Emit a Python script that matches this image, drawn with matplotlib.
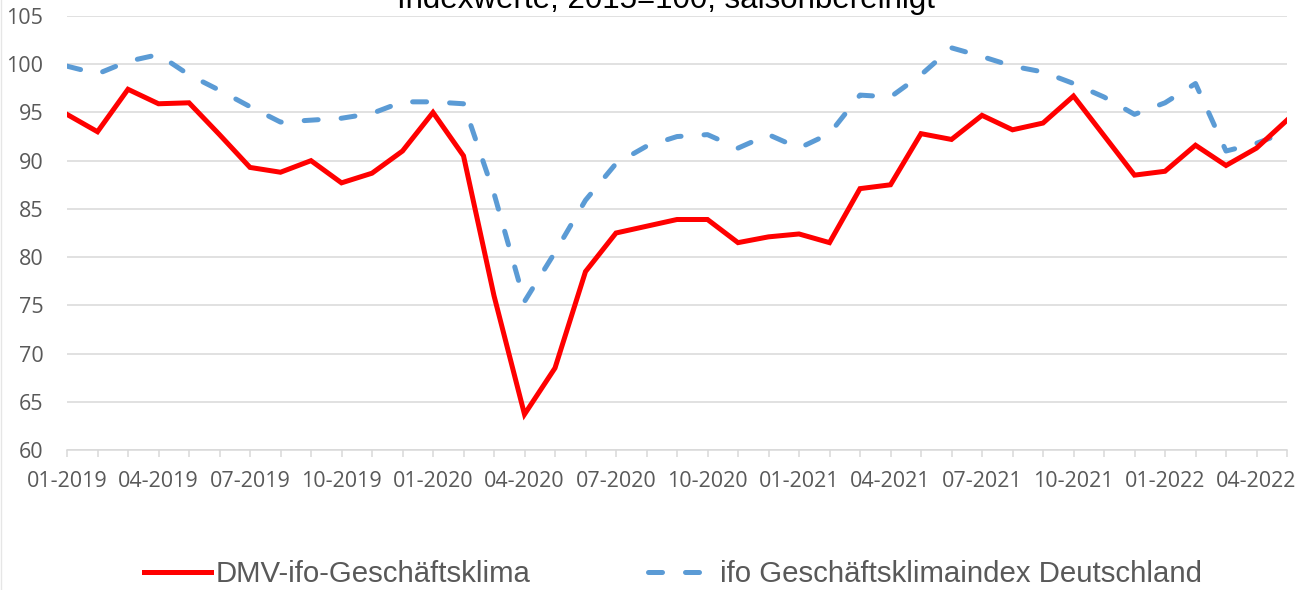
import numpy as np
import matplotlib.pyplot as plt
from matplotlib.lines import Line2D

# monthly values 01-2019 .. 05-2022
months = ['%02d-%d' % (m, y) for y in range(2019, 2023) for m in range(1, 13)][:41]

dmv_ifo = [94.8, 93.0, 97.4, 95.9, 96.0, 92.7, 89.3, 88.8, 90.0, 87.7,
           88.7, 91.0, 95.0, 90.5, 76.0, 63.7, 68.5, 78.5, 82.5, 83.2,
           83.9, 83.9, 81.5, 82.1, 82.4, 81.5, 87.1, 87.5, 92.8, 92.2,
           94.7, 93.2, 93.9, 96.7, 92.6, 88.5, 88.9, 91.6, 89.5, 91.3,
           94.2]

ifo_de = [99.8, 99.0, 100.3, 101.0, 98.9, 97.3, 95.6, 94.0, 94.2, 94.4,
          94.9, 96.1, 96.1, 95.9, 86.6, 75.4, 80.5, 85.9, 89.7, 91.5,
          92.5, 92.7, 91.3, 92.7, 91.3, 92.8, 96.8, 96.6, 98.9, 101.7,
          100.8, 99.8, 99.2, 98.0, 96.6, 94.8, 96.0, 98.0, 91.0, 91.8,
          93.0]

yticks = np.arange(60, 106, 5)

plt.rcParams['font.family'] = ['Open Sans', 'DejaVu Sans']

fig = plt.figure(figsize=(13.05, 5.9), dpi=100)
ax = fig.add_axes([67/1305, 1-450/590, 1220/1305, 434/590])

x = np.arange(len(months))
ax.plot(x, dmv_ifo, color='#ff0000', lw=3.6, solid_joinstyle='miter',
        label='DMV-ifo-Geschäftsklima', zorder=3)
ax.plot(x, ifo_de, color='#5b9bd5', lw=3.6, dashes=(2.8, 4.6),
        dash_capstyle='round', label='ifo Geschäftsklimaindex Deutschland', zorder=2)

ax.set_xlim(0, len(months)-1)
ax.set_ylim(60, 105)
ax.set_yticks(yticks)
ax.set_xticks(x, minor=True)
ax.set_xticks(x[::3])
ax.set_xticklabels(months[::3])
ax.grid(axis='y', color='#d9d9d9', lw=1.1)
ax.set_axisbelow(True)
for s in ['top', 'right', 'left']:
    ax.spines[s].set_visible(False)
ax.spines['bottom'].set_color('#d9d9d9')
ax.spines['bottom'].set_linewidth(1.1)
ax.tick_params(axis='y', length=0, pad=17, labelsize=15.5, labelcolor='#595959')
ax.tick_params(axis='x', which='both', length=5, width=1.1, color='#d9d9d9',
               pad=10, labelsize=15.5, labelcolor='#595959')

fig.text(666/1305, 1-8/590, 'Indexwerte, 2015=100, saisonbereinigt',
         ha='center', va='baseline', fontsize=22.5, family='Liberation Sans')

fig.legend(loc='center', bbox_to_anchor=(673/1305, 1-574/590), ncol=2,
           frameon=False, prop={'family': 'Liberation Sans', 'size': 21.2},
           handlelength=2.3, handletextpad=0.15, columnspacing=4.0,
           labelcolor='#595959')

fig.add_artist(Line2D([0.001, 0.001], [0, 1], color='#e6e6e6', lw=1))

fig.savefig('out.png', dpi=100)
